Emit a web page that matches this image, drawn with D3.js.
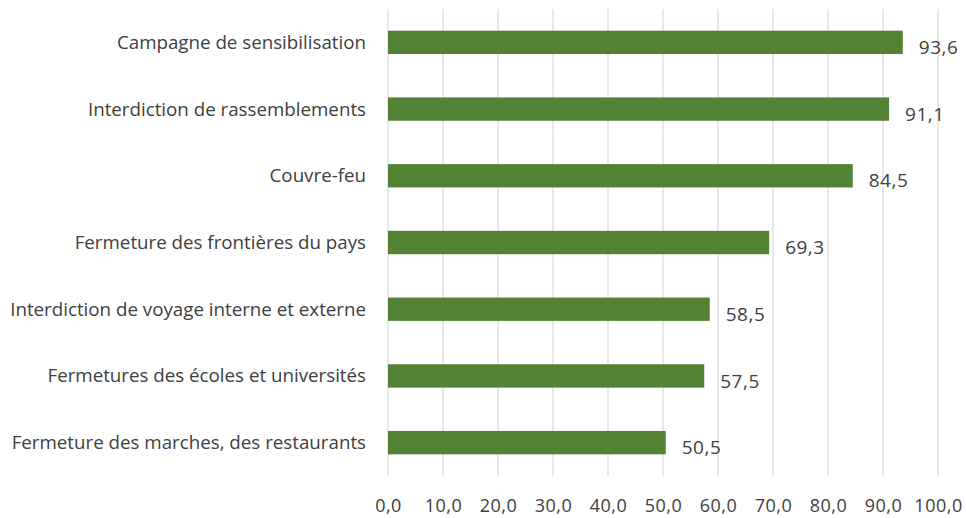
<!DOCTYPE html>
<html>
<head>
<meta charset="utf-8">
<script src="https://cdn.jsdelivr.net/npm/d3@7"></script>
<style>
  html, body { margin: 0; padding: 0; background: #fff; }
  svg { display: block; }
  text { font-family: "Open Sans", Lato, sans-serif; fill: #404040; }
</style>
</head>
<body>
<svg id="chart" width="966" height="518"></svg>
<script>
const categories = [
  "Campagne de sensibilisation",
  "Interdiction de rassemblements",
  "Couvre-feu",
  "Fermeture des frontières du pays",
  "Interdiction de voyage interne et externe",
  "Fermetures des écoles et universités",
  "Fermeture des marches, des restaurants"
];
const values = [93.6, 91.1, 84.5, 69.3, 58.5, 57.5, 50.5];
const tickValues = [0, 10, 20, 30, 40, 50, 60, 70, 80, 90, 100];

const fmt = v => v.toFixed(1).replace(".", ",");

const svg = d3.select("#chart");
const margin = { left: 388, top: 9 };

const x = d3.scaleLinear().domain([0, 100]).range([margin.left, margin.left + 550]);
const y = d3.scaleBand().domain(categories).range([margin.top, 476]).paddingInner(0.65).paddingOuter(0.325);

// gridlines
svg.append("g")
  .selectAll("line")
  .data(tickValues)
  .join("line")
  .attr("x1", d => x(d)).attr("x2", d => x(d))
  .attr("y1", margin.top).attr("y2", 476)
  .attr("stroke", "#d9d9d9").attr("stroke-width", 1.2);

// bars
svg.append("g")
  .selectAll("rect")
  .data(values)
  .join("rect")
  .attr("x", x(0))
  .attr("y", (d, i) => y(categories[i]))
  .attr("width", d => x(d) - x(0))
  .attr("height", y.bandwidth())
  .attr("fill", "#548235");

// value labels
svg.append("g")
  .selectAll("text")
  .data(values)
  .join("text")
  .attr("x", d => x(d) + 16)
  .attr("y", (d, i) => y(categories[i]) + y.bandwidth() / 2 + 5)
  .attr("dy", "0.35em")
  .style("font-size", "19px")
  .style("letter-spacing", "0.5px")
  .text(d => fmt(d));

// category axis labels
const cat = svg.append("g")
  .selectAll("text")
  .data(categories)
  .join("text")
  .attr("x", 366)
  .attr("y", d => y(d) + y.bandwidth() / 2)
  .attr("dy", "0.35em")
  .attr("text-anchor", "end")
  .style("font-size", "17px")
  .text(d => d);

// fit longest label width to the reference (~356px)
const longest = cat.filter(d => d === "Interdiction de voyage interne et externe").node();
const w = longest.getComputedTextLength();
cat.style("font-size", (17 * 356 / w).toFixed(2) + "px");

// x axis
const xAxis = d3.axisBottom(x).tickValues(tickValues).tickFormat(fmt).tickSize(0).tickPadding(0);
const gx = svg.append("g").attr("transform", "translate(0,506)").call(xAxis);
gx.select(".domain").remove();
gx.selectAll("text")
  .attr("dy", "0.35em")
  .style("font-size", "18px")
  .style("letter-spacing", "0.5px")
  .style("font-family", "'Open Sans', Lato, sans-serif")
  .attr("fill", "#404040");
</script>
</body>
</html>
